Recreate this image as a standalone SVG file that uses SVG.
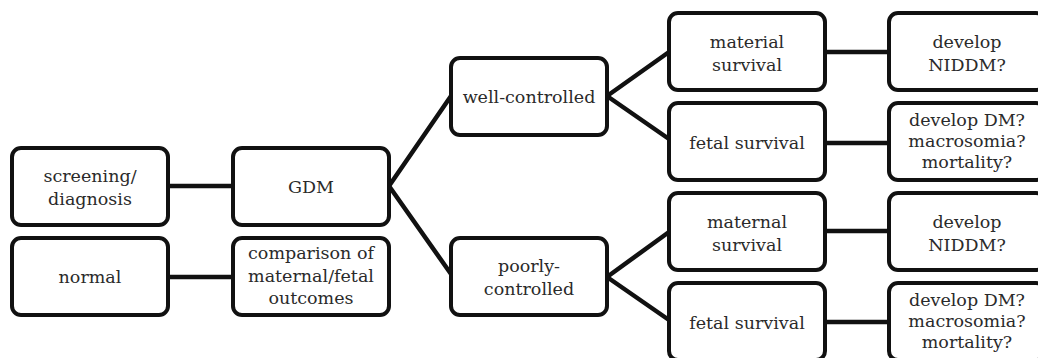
<svg xmlns="http://www.w3.org/2000/svg" width="1038" height="358" viewBox="0 0 1038 358">
<style>
.box{fill:#fff;stroke:#111;stroke-width:4}
.t{font-family:"DejaVu Serif","Liberation Serif",serif;font-size:17.5px;fill:#2a2a2a;text-anchor:middle}
.c{stroke:#111;stroke-width:4.5;fill:none;stroke-linecap:round}
</style>
<rect width="1038" height="358" fill="#fff"/>
<g id="connectors">
<line class="c" x1="168" y1="186" x2="232" y2="186"/>
<line class="c" x1="168" y1="277" x2="232" y2="277"/>
<line class="c" x1="389" y1="186" x2="451" y2="96"/>
<line class="c" x1="389" y1="186" x2="451" y2="274"/>
<line class="c" x1="607" y1="96" x2="669" y2="52"/>
<line class="c" x1="607" y1="96" x2="669" y2="139"/>
<line class="c" x1="607" y1="277" x2="669" y2="232"/>
<line class="c" x1="607" y1="277" x2="669" y2="320"/>
<line class="c" x1="826" y1="52" x2="888" y2="52"/>
<line class="c" x1="826" y1="143" x2="888" y2="143"/>
<line class="c" x1="826" y1="231" x2="888" y2="231"/>
<line class="c" x1="826" y1="322" x2="888" y2="322"/>
</g>
<g id="screening">
<rect class="box" x="12" y="148" width="156" height="77" rx="9"/>
<text class="t" x="90" y="182">screening/</text>
<text class="t" x="90" y="205">diagnosis</text>
</g>
<g id="normal">
<rect class="box" x="12" y="238" width="156" height="77" rx="9"/>
<text class="t" x="90" y="283">normal</text>
</g>
<g id="gdm">
<rect class="box" x="233" y="148" width="156" height="77" rx="9"/>
<text class="t" x="311" y="193">GDM</text>
</g>
<g id="comparison">
<rect class="box" x="233" y="238" width="156" height="77" rx="9"/>
<text class="t" x="311" y="259">comparison of</text>
<text class="t" x="311" y="282">maternal/fetal</text>
<text class="t" x="311" y="304">outcomes</text>
</g>
<g id="well">
<rect class="box" x="451" y="58" width="156" height="77" rx="9"/>
<text class="t" x="529" y="103">well-controlled</text>
</g>
<g id="poorly">
<rect class="box" x="451" y="238" width="156" height="77" rx="9"/>
<text class="t" x="529" y="272">poorly-</text>
<text class="t" x="529" y="295">controlled</text>
</g>
<g id="material">
<rect class="box" x="669" y="13" width="156" height="77" rx="9"/>
<text class="t" x="747" y="48">material</text>
<text class="t" x="747" y="71">survival</text>
</g>
<g id="fetal1">
<rect class="box" x="669" y="103" width="156" height="77" rx="9"/>
<text class="t" x="747" y="149">fetal survival</text>
</g>
<g id="maternal">
<rect class="box" x="669" y="193" width="156" height="77" rx="9"/>
<text class="t" x="747" y="228">maternal</text>
<text class="t" x="747" y="251">survival</text>
</g>
<g id="fetal2">
<rect class="box" x="669" y="283" width="156" height="77" rx="9"/>
<text class="t" x="747" y="329">fetal survival</text>
</g>
<g id="niddm1">
<rect class="box" x="889" y="13" width="156" height="77" rx="9"/>
<text class="t" x="967" y="48">develop</text>
<text class="t" x="967" y="71">NIDDM?</text>
</g>
<g id="dm1">
<rect class="box" x="889" y="103" width="156" height="77" rx="9"/>
<text class="t" x="967" y="126">develop DM?</text>
<text class="t" x="967" y="147">macrosomia?</text>
<text class="t" x="967" y="168">mortality?</text>
</g>
<g id="niddm2">
<rect class="box" x="889" y="193" width="156" height="77" rx="9"/>
<text class="t" x="967" y="228">develop</text>
<text class="t" x="967" y="251">NIDDM?</text>
</g>
<g id="dm2">
<rect class="box" x="889" y="283" width="156" height="77" rx="9"/>
<text class="t" x="967" y="306">develop DM?</text>
<text class="t" x="967" y="327">macrosomia?</text>
<text class="t" x="967" y="348">mortality?</text>
</g>
</svg>
